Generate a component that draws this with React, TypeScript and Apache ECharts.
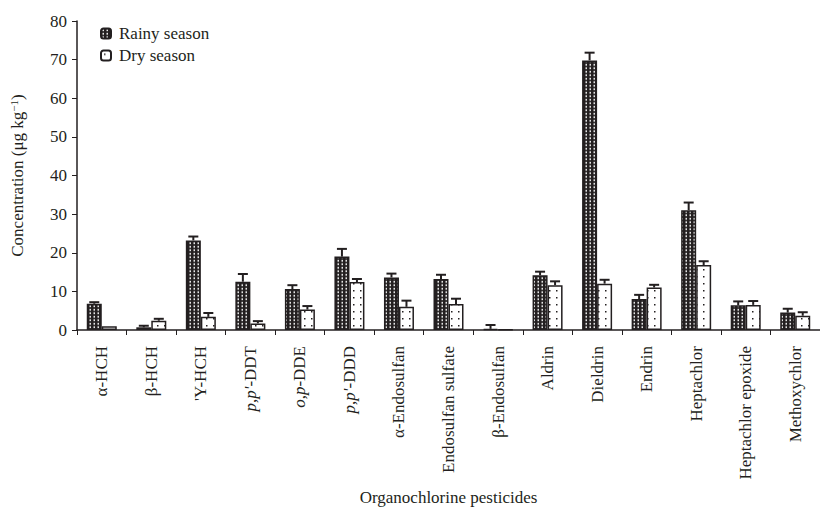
import React, { useEffect, useRef } from "react";
import * as echarts from "echarts";

const categories = [
  "α-HCH",
  "β-HCH",
  "'Y-HCH",
  "{i|p,p'}-DDT",
  "{i|o,p}-DDE",
  "{i|p,p'}-DDD",
  "α-Endosulfan",
  "Endosulfan sulfate",
  "β-Endosulfan",
  "Aldrin",
  "Dieldrin",
  "Endrin",
  "Heptachlor",
  "Heptachlor epoxide",
  "Methoxychlor",
];
const rainyValues = [6.8, 0.7, 23.2, 12.5, 10.6, 19.0, 13.6, 13.2, 0.3, 14.2, 69.8, 8.0, 31.0, 6.4, 4.5];
const rainyErrors = [0.4, 0.4, 1.0, 2.0, 1.0, 2.0, 1.0, 1.1, 1.0, 0.9, 2.0, 1.1, 2.0, 1.0, 1.0];
const dryValues = [1.0, 2.4, 3.4, 1.7, 5.3, 12.4, 6.0, 6.7, 0.1, 11.6, 12.0, 11.0, 16.8, 6.5, 3.7];
const dryErrors = [0.0, 0.5, 1.0, 0.6, 0.9, 0.8, 1.6, 1.4, 0.0, 1.0, 1.0, 0.7, 1.0, 1.0, 0.9];
const yTicks = { min: 0, max: 80, interval: 10 };

const INK = "#231f20";
const FONT = "'Liberation Serif', 'Times New Roman', serif";

function makePattern(kind: "rainy" | "dry") {
  const c = document.createElement("canvas");
  if (kind === "rainy") {
    c.width = 8;
    c.height = 7;
    const ctx = c.getContext("2d")!;
    ctx.fillStyle = "#231f20";
    ctx.fillRect(0, 0, 8, 7);
    ctx.fillStyle = "#ffffff";
    ctx.fillRect(3, 2, 3, 3);
    return { image: c.toDataURL(), imageWidth: 4, imageHeight: 3.5, repeat: "repeat" } as any;
  }
  c.width = 14;
  c.height = 14;
  const ctx = c.getContext("2d")!;
  ctx.fillStyle = "#ffffff";
  ctx.fillRect(0, 0, 14, 14);
  ctx.fillStyle = INK;
  ctx.fillRect(6, 6, 3, 3);
  return { image: c.toDataURL(), imageWidth: 7, imageHeight: 7, repeat: "repeat" } as any;
}

export default function App() {
  const ref = useRef<HTMLDivElement>(null);
  useEffect(() => {
    if (!ref.current) return;
    const chart = echarts.init(ref.current, undefined, { renderer: "svg" });
    const rainyPat = makePattern("rainy");
    const dryPat = makePattern("dry");

    const errSeries = (vals: number[], errs: number[], offset: number) => ({
      type: "custom",
      z: 5,
      silent: true,
      data: vals.map((v, i) => [i, v, errs[i]]),
      encode: { x: 0, y: 1 },
      renderItem: (params: any, api: any) => {
        const idx = api.value(0);
        const v = api.value(1);
        const e = api.value(2);
        if (!e) return null;
        const base = api.coord([idx, v]);
        const top = api.coord([idx, v + e]);
        const x = base[0] + offset;
        const st = { stroke: INK, lineWidth: 2 };
        return {
          type: "group",
          children: [
            { type: "line", shape: { x1: x, y1: base[1], x2: x, y2: top[1] }, style: st },
            { type: "line", shape: { x1: x - 5, y1: top[1], x2: x + 5, y2: top[1] }, style: st },
          ],
        };
      },
    });

    chart.setOption({
      animation: false,
      backgroundColor: "#ffffff",
      textStyle: { fontFamily: FONT, color: INK },
      legend: {
        data: ["Rainy season", "Dry season"],
        orient: "vertical",
        left: 100,
        top: 25,
        padding: 0,
        itemWidth: 10,
        itemHeight: 10,
        itemGap: 5,
        textStyle: { fontFamily: FONT, fontSize: 17, color: INK, padding: [0, 0, 0, 3] },
      },
      grid: { left: 76, right: -8, top: 21, bottom: 176, containLabel: false },
      xAxis: {
        type: "category",
        data: categories,
        name: "Organochlorine pesticides",
        nameLocation: "middle",
        nameGap: 159,
        nameTextStyle: { fontFamily: FONT, fontSize: 17, color: INK },
        axisLine: { lineStyle: { color: INK, width: 1.5 } },
        axisTick: { show: true, length: 5, interval: 0, lineStyle: { color: INK } },
        axisLabel: {
          interval: 0,
          rotate: 90,
          margin: 16,
          fontFamily: FONT,
          fontSize: 17,
          color: INK,
          rich: { i: { fontStyle: "italic", fontFamily: FONT, fontSize: 17, color: INK } },
        },
      },
      yAxis: {
        type: "value",
        min: yTicks.min,
        max: yTicks.max,
        interval: yTicks.interval,
        name: "Concentration (μg kg{sup|−1})",
        nameLocation: "middle",
        nameRotate: 90,
        nameGap: 50,
        nameTextStyle: {
          fontFamily: FONT,
          fontSize: 17,
          color: INK,
          rich: { sup: { fontSize: 11, fontFamily: FONT, color: INK, padding: [0, 0, 8, 0] } },
        },
        splitLine: { show: false },
        axisLine: { show: true, lineStyle: { color: INK, width: 1.5 } },
        axisTick: { show: true, length: 5, lineStyle: { color: INK } },
        axisLabel: { fontFamily: FONT, fontSize: 17, color: INK, margin: 10 },
      },
      series: [
        {
          name: "Rainy season",
          type: "bar",
          data: rainyValues,
          barWidth: 15,
          barGap: "0%",
          itemStyle: { color: rainyPat, borderColor: INK, borderWidth: 1.5 },
        },
        {
          name: "Dry season",
          type: "bar",
          data: dryValues,
          barWidth: 15,
          barGap: "0%",
          itemStyle: { color: dryPat, borderColor: INK, borderWidth: 1.5 },
        },
        errSeries(rainyValues, rainyErrors, -7.5),
        errSeries(dryValues, dryErrors, 7.5),
      ],
    } as any);
    return () => chart.dispose();
  }, []);
  return (
    <div
      ref={ref}
      style={{ position: "fixed", left: 0, top: 0, width: 820, height: 511, background: "#fff" }}
    />
  );
}
